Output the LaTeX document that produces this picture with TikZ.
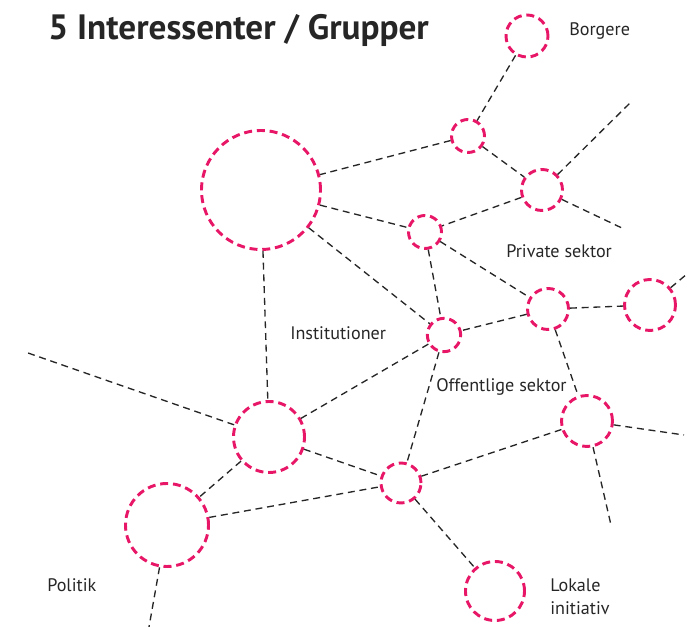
\documentclass[tikz,border=0pt]{standalone}
\usepackage{fontspec}
\setmainfont{PT Sans}
\usetikzlibrary{positioning}
\definecolor{grppink}{RGB}{232,22,102}
\definecolor{txtgray}{RGB}{38,38,38}

\begin{document}
\begin{tikzpicture}[x=0.75pt,y=-0.75pt,
	grp/.style={circle,draw=grppink,line width=2.2pt,dash pattern=on 6pt off 3.6pt,inner sep=0pt,minimum size=#1},
	link/.style={draw=black!85,line width=1pt,dash pattern=on 5.2pt off 3.6pt},
	lbl/.style={text=txtgray,inner sep=0pt,font=\fontsize{13.6}{17}\selectfont}]
	\useasboundingbox (0,0) rectangle (687,627);

	%GROUPS
	\node[grp=31.5pt] (borg) at (527,36) {};
	\node[grp=24.75pt] (hub) at (468,136) {};
	\node[grp=89.25pt] (inst) at (261,190) {};
	\node[grp=30.75pt] (priv1) at (542,190) {};
	\node[grp=24.75pt] (knot) at (425,232) {};
	\node[grp=30.75pt] (priv2) at (548,309) {};
	\node[grp=38.25pt] (priv3) at (650,305) {};
	\node[grp=25pt] (offe) at (444,335) {};
	\node[grp=53.25pt] (mid) at (269,437) {};
	\node[grp=38.25pt] (offe2) at (587,421) {};
	\node[grp=30pt] (lok1) at (401,483) {};
	\node[grp=62.25pt] (pol) at (167,525) {};
	\node[grp=44.25pt] (lok) at (495,591) {};

	%LOOSE ENDS
	\coordinate (e1) at (631,102);
	\coordinate (e2) at (624,229);
	\coordinate (e3) at (687,274);
	\coordinate (e4) at (684,435);
	\coordinate (e5) at (611,525);
	\coordinate (e6) at (28,353);
	\coordinate (e7) at (149,627);

	%LINKS
	\foreach \a/\b in {borg/hub,hub/inst,hub/priv1,priv1/e1,priv1/e2,priv1/knot,
		inst/knot,inst/offe,inst/mid,knot/priv2,knot/offe,priv2/priv3,priv3/e3,
		priv2/offe,priv2/offe2,offe/mid,offe/lok1,offe2/lok1,offe2/e4,offe2/e5,
		mid/e6,mid/lok1,mid/pol,pol/lok1,pol/e7,lok1/lok}{
		\draw[link] (\a) -- (\b);
	}

	%TEXT
	\node[anchor=base west,inner sep=0pt,text=txtgray,font=\bfseries\fontsize{26.4}{30}\selectfont] (title) at (48,40) {5 Interessenter / Grupper};
	\node[lbl,anchor=west] (tborg) at (569,31) {Borgere};
	\node[lbl,anchor=west] (tpriv) at (506,251) {Private sektor};
	\node[lbl,anchor=west] (tinst) at (290,333) {Institutioner};
	\node[lbl,anchor=west] (toffe) at (436,387) {Offentlige sektor};
	\node[lbl,anchor=west] (tpol) at (47,585) {Politik};
	\node[lbl,anchor=west,align=left] (tlok) at (550,597) {Lokale\\initiativ};
\end{tikzpicture}
\end{document}
